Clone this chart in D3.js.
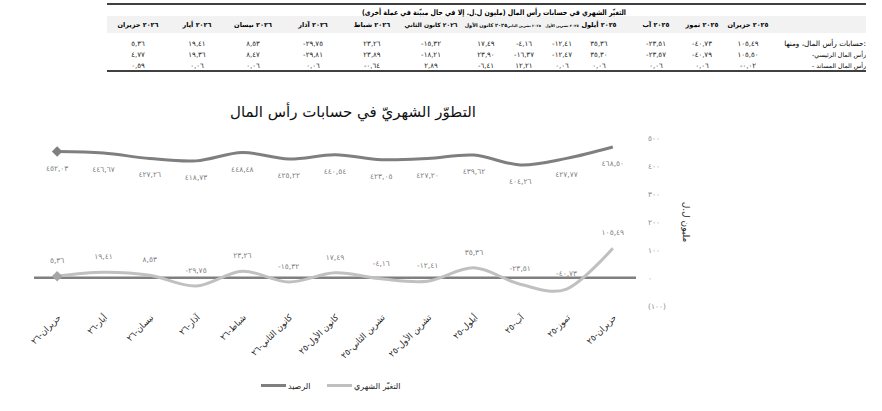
<!DOCTYPE html>
<html lang="ar">
<head>
<meta charset="utf-8">
<script src="https://cdn.jsdelivr.net/npm/d3@7/dist/d3.min.js"></script>
<style>
  html, body { margin: 0; padding: 0; background: #fff; }
  svg { display: block; font-family: "DejaVu Sans", sans-serif; }
</style>
</head>
<body>
<div id="chart"></div>
<script>
// 数据 - months run from June 2025 to June 2026
const months = ["حزيران", "تموز", "آب", "أيلول", "تشرين الأول", "تشرين الثاني", "كانون الأول",
  "كانون الثاني", "شباط", "آذار", "نيسان", "أيار", "حزيران"];
const years = [2025, 2025, 2025, 2025, 2025, 2025, 2025, 2026, 2026, 2026, 2026, 2026, 2026];

const capitalChange = [105.49, -40.73, -23.51, 35.36, -12.41, -4.16, 17.49, -15.32, 23.26, -29.75, 8.53, 19.41, 5.36];
const coreCapital = [105.50, -40.79, -23.57, 35.30, -12.47, -16.37, 23.90, -18.21, 23.89, -29.81, 8.47, 19.36, 4.77];
const supplementaryCapital = [-0.02, 0.06, 0.06, 0.06, 0.06, 12.21, -6.41, 2.89, -0.64, 0.06, 0.06, 0.06, 0.59];
const balance = [468.50, 427.77, 404.26, 439.62, 427.20, 423.05, 440.54, 425.22, 448.48, 418.73, 427.26, 446.67, 452.03];

const yTicks = [-100, 0, 100, 200, 300, 400, 500];

const tableTitle = "التغيّر الشهري في حسابات رأس المال (مليون ل.ل. إلا في حال مبيّنة في عملة أخرى)";
const rowLabels = ["حسابات رأس المال، ومنها:", "-رأس المال الرئيسي", "- رأس المال المساند"];
const chartTitle = "التطوّر الشهريّ في حسابات رأس المال";
const yAxisTitle = "مليون ل.ل";
const seriesNames = ["الرصيد", "التغيّر الشهري"];

// 布局
const width = 882;
const height = 411;
const colCenters = [748, 702, 656, 599, 562, 524, 486, 431, 372, 313, 253, 197, 138];
const colors = { balance: "#7f7f7f", change: "#c0c0c0", zero: "#7f7f7f", label: "#7f7f7f" };

// Arabic-Indic numerals, comma decimal
const arLocale = d3.formatLocale({
  decimal: ",",
  thousands: ".",
  grouping: [3],
  currency: ["", ""],
  numerals: ["٠", "١", "٢", "٣", "٤", "٥", "٦", "٧", "٨", "٩"],
  minus: "-"
});
const fmtValue = arLocale.format(".2f");
const fmtTick = arLocale.format("(.0f");
const fmtYear = arLocale.format("d");
const fmtShortYear = arLocale.format("02d");

const headerLabels = months.map((m, i) => fmtYear(years[i]) + " " + m);
const axisLabels = months.map((m, i) => m + "-" + fmtShortYear(years[i] % 100));

// shrink the font of a text until it fits in maxWidth
function fitFont(selection, maxWidth) {
  selection.each(function (d, i) {
    const w = typeof maxWidth === "function" ? maxWidth(d, i) : maxWidth;
    const len = this.getComputedTextLength();
    if (len > w) {
      const size = parseFloat(d3.select(this).attr("font-size"));
      d3.select(this).attr("font-size", (size * w / len).toFixed(2));
    }
  });
}

const svg = d3.select("#chart")
  .append("svg")
  .attr("width", width)
  .attr("height", height)
  .attr("viewBox", [0, 0, width, height]);

// ---------- 表格 ----------
const table = svg.append("g").attr("class", "table");
const tableLeft = 107;
const tableRight = 866;

table.append("rect")
  .attr("x", tableLeft).attr("y", 16)
  .attr("width", tableRight - tableLeft).attr("height", 17)
  .attr("fill", "#f2f2f2");

table.append("line")
  .attr("x1", tableLeft).attr("x2", tableRight)
  .attr("y1", 4).attr("y2", 4)
  .attr("stroke", "#000").attr("stroke-width", 1.5);

table.append("line")
  .attr("x1", tableLeft).attr("x2", tableRight)
  .attr("y1", 71).attr("y2", 71)
  .attr("stroke", "#000").attr("stroke-width", 1.5);

table.append("text")
  .attr("x", 494).attr("y", 14.5)
  .attr("text-anchor", "middle")
  .attr("font-size", 7.5)
  .attr("font-weight", "bold")
  .text(tableTitle)
  .attr("textLength", 264)
  .attr("lengthAdjust", "spacingAndGlyphs");

// column widths from neighbouring centers
const colWidth = i => {
  const left = i < colCenters.length - 1 ? (colCenters[i] + colCenters[i + 1]) / 2 : colCenters[i] - 28;
  const right = i > 0 ? (colCenters[i - 1] + colCenters[i]) / 2 : colCenters[i] + 28;
  return right - left - 4;
};

table.selectAll(".col-head")
  .data(headerLabels)
  .join("text")
  .attr("class", "col-head")
  .attr("x", (d, i) => colCenters[i])
  .attr("y", 27)
  .attr("text-anchor", "middle")
  .attr("font-size", 6.5)
  .attr("font-weight", "bold")
  .text(d => d)
  .call(fitFont, (d, i) => colWidth(i));

const tableRows = [capitalChange, coreCapital, supplementaryCapital];
const rowY = [46, 57, 68];

tableRows.forEach((row, r) => {
  table.append("text")
    .attr("x", tableRight)
    .attr("y", rowY[r])
    .attr("text-anchor", "end")
    .attr("font-size", r === 0 ? 7.5 : 6.5)
    .text(rowLabels[r])
    .call(fitFont, r === 0 ? 82 : 54);

  table.selectAll(".cell-" + r)
    .data(row)
    .join("text")
    .attr("class", "cell-" + r)
    .attr("x", (d, i) => colCenters[i])
    .attr("y", rowY[r])
    .attr("text-anchor", "middle")
    .attr("font-size", 7)
    .attr("fill", "#222")
    .text(d => fmtValue(d));
});

// ---------- 图表 ----------
const x = d3.scaleBand()
  .domain(axisLabels)
  .range([636, 34]);

const y = d3.scaleLinear()
  .domain([-100, 500])
  .range([305.6, 138.2]);

const cx = i => x(axisLabels[i]) + x.bandwidth() / 2;

svg.append("text")
  .attr("x", 353).attr("y", 117)
  .attr("text-anchor", "middle")
  .attr("font-size", 15)
  .attr("fill", "#111")
  .text(chartTitle);

// y axis on the right
const yAxis = svg.append("g")
  .attr("transform", "translate(640,0)")
  .call(d3.axisRight(y).tickValues(yTicks).tickSize(0).tickPadding(8).tickFormat(fmtTick));
yAxis.select(".domain").remove();
yAxis.selectAll("text")
  .attr("font-family", "DejaVu Sans, sans-serif")
  .attr("font-size", 7.5)
  .attr("fill", "#8c8c8c");

svg.append("text")
  .attr("transform", "translate(683,222) rotate(90)")
  .attr("text-anchor", "middle")
  .attr("font-size", 9)
  .attr("fill", "#222")
  .text(yAxisTitle);

// zero line
svg.append("line")
  .attr("x1", x.range()[1]).attr("x2", x.range()[0])
  .attr("y1", y(0)).attr("y2", y(0))
  .attr("stroke", colors.zero)
  .attr("stroke-width", 2.5);

// x axis labels
const xAxis = svg.append("g")
  .attr("transform", "translate(0,318)")
  .call(d3.axisBottom(x).tickSize(0));
xAxis.select(".domain").remove();
xAxis.selectAll("text")
  .attr("font-family", "DejaVu Sans, sans-serif")
  .attr("font-size", 8.5)
  .attr("fill", "#222")
  .attr("text-anchor", "end")
  .attr("x", 3)
  .attr("y", 0)
  .attr("dy", "0.35em")
  .attr("transform", "rotate(-45)");

// series lines
const line = d3.line()
  .x((d, i) => cx(i))
  .y(d => y(d))
  .curve(d3.curveCardinal.tension(0));

svg.append("path")
  .datum(capitalChange)
  .attr("fill", "none")
  .attr("stroke", colors.change)
  .attr("stroke-width", 3)
  .attr("d", line);

svg.append("path")
  .datum(balance)
  .attr("fill", "none")
  .attr("stroke", colors.balance)
  .attr("stroke-width", 3)
  .attr("d", line);

// diamonds on the last month
const diamond = d3.symbol(d3.symbolSquare, 55);
const last = balance.length - 1;
[[balance, colors.balance], [capitalChange, "#a6a6a6"]].forEach(([series, color]) => {
  svg.append("path")
    .attr("d", diamond)
    .attr("transform", `translate(${cx(last)},${y(series[last])}) rotate(45)`)
    .attr("fill", color);
});

// data labels
svg.append("g")
  .selectAll("text")
  .data(balance)
  .join("text")
  .attr("x", (d, i) => cx(i))
  .attr("y", d => y(d) + 19)
  .attr("text-anchor", "middle")
  .attr("font-size", 7.5)
  .attr("fill", colors.label)
  .text(d => fmtValue(d));

svg.append("g")
  .selectAll("text")
  .data(capitalChange)
  .join("text")
  .attr("x", (d, i) => cx(i))
  .attr("y", d => y(d) - 13)
  .attr("text-anchor", "middle")
  .attr("font-size", 7.5)
  .attr("fill", colors.label)
  .text(d => fmtValue(d));

// legend
const legend = svg.append("g").attr("class", "legend");
const legendItems = [
  { name: seriesNames[0], color: colors.balance, x: 261 },
  { name: seriesNames[1], color: colors.change, x: 327 }
];
legendItems.forEach(item => {
  legend.append("line")
    .attr("x1", item.x).attr("x2", item.x + 25)
    .attr("y1", 385.5).attr("y2", 385.5)
    .attr("stroke", item.color)
    .attr("stroke-width", 3);
  legend.append("text")
    .attr("x", item.x + 27)
    .attr("y", 388.5)
    .attr("font-size", 8)
    .attr("fill", "#222")
    .text(item.name);
});
</script>
</body>
</html>
